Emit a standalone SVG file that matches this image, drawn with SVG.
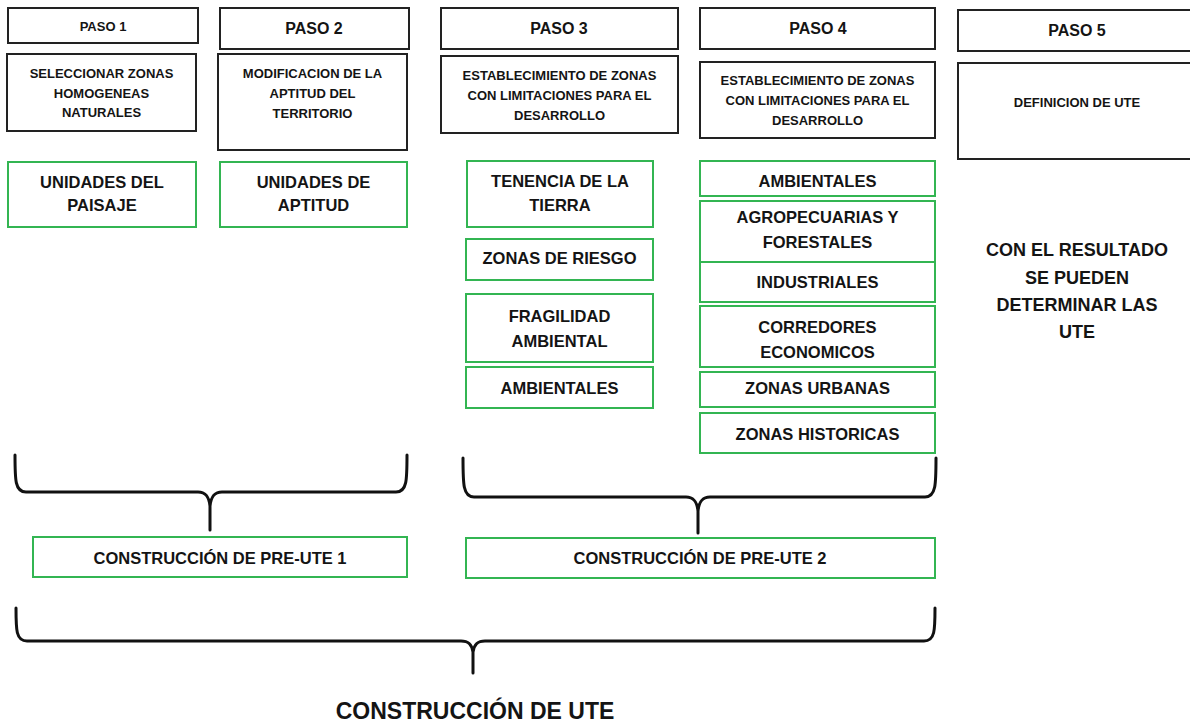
<svg xmlns="http://www.w3.org/2000/svg" width="1190" height="723" viewBox="0 0 1190 723">
<style>
.bk{fill:#fff;stroke:#222;stroke-width:2}
.gr{fill:#fff;stroke:#33b552;stroke-width:2}
text{font-family:"Liberation Sans",Arial,sans-serif;font-weight:bold;fill:#141414;text-anchor:middle}
.s13{font-size:13px}
.s16{font-size:16px}
.g{font-size:16.5px}
.big{font-size:18px}
.brace{fill:none;stroke:#111;stroke-width:3;stroke-linecap:round;stroke-linejoin:round}
</style>
<rect width="1190" height="723" fill="#fff"/>

<g id="paso1">
<rect class="bk" x="8" y="8" width="190" height="35"/>
<text class="s13" x="103" y="31">PASO 1</text>
</g>
<g id="paso2">
<rect class="bk" x="220" y="8" width="189" height="41"/>
<text class="s16" x="314" y="34">PASO 2</text>
</g>
<g id="paso3">
<rect class="bk" x="441" y="8" width="237" height="41"/>
<text class="s16" x="559" y="34">PASO 3</text>
</g>
<g id="paso4">
<rect class="bk" x="700" y="8" width="235" height="41"/>
<text class="s16" x="818" y="34">PASO 4</text>
</g>
<g id="paso5">
<rect class="bk" x="958" y="10" width="240" height="41"/>
<text class="s16" x="1077" y="36">PASO 5</text>
</g>

<g id="desc1">
<rect class="bk" x="7" y="54" width="189" height="77"/>
<text class="s13" x="101.5" y="78">SELECCIONAR ZONAS</text>
<text class="s13" x="101.5" y="97.5">HOMOGENEAS</text>
<text class="s13" x="101.5" y="117">NATURALES</text>
</g>
<g id="desc2">
<rect class="bk" x="218" y="54" width="189" height="96"/>
<text class="s13" x="312.5" y="77.5">MODIFICACION DE LA</text>
<text class="s13" x="312.5" y="97.5">APTITUD DEL</text>
<text class="s13" x="312.5" y="117.5">TERRITORIO</text>
</g>
<g id="desc3">
<rect class="bk" x="441" y="56" width="237" height="77"/>
<text class="s13" x="559.5" y="79.5">ESTABLECIMIENTO DE ZONAS</text>
<text class="s13" x="559.5" y="99.5">CON LIMITACIONES PARA EL</text>
<text class="s13" x="559.5" y="119.5">DESARROLLO</text>
</g>
<g id="desc4">
<rect class="bk" x="700" y="62" width="235" height="76"/>
<text class="s13" x="817.5" y="84.5">ESTABLECIMIENTO DE ZONAS</text>
<text class="s13" x="817.5" y="104.5">CON LIMITACIONES PARA EL</text>
<text class="s13" x="817.5" y="124.5">DESARROLLO</text>
</g>
<g id="desc5">
<rect class="bk" x="958" y="63" width="240" height="96"/>
<text class="s13" x="1077" y="106.5">DEFINICION DE UTE</text>
</g>

<g id="unidades-paisaje">
<rect class="gr" x="8" y="162" width="188" height="65"/>
<text class="g" x="102" y="188">UNIDADES DEL</text>
<text class="g" x="102" y="211">PAISAJE</text>
</g>
<g id="unidades-aptitud">
<rect class="gr" x="220" y="162" width="187" height="65"/>
<text class="g" x="313.5" y="188">UNIDADES DE</text>
<text class="g" x="313.5" y="211">APTITUD</text>
</g>

<g id="tenencia">
<rect class="gr" x="467" y="161" width="186" height="66"/>
<text class="g" x="560" y="187">TENENCIA DE LA</text>
<text class="g" x="560" y="211">TIERRA</text>
</g>
<g id="riesgo">
<rect class="gr" x="466" y="239" width="187" height="41"/>
<text class="g" x="559.5" y="264">ZONAS DE RIESGO</text>
</g>
<g id="fragilidad">
<rect class="gr" x="466" y="294" width="187" height="68"/>
<text class="g" x="559.5" y="322">FRAGILIDAD</text>
<text class="g" x="559.5" y="347">AMBIENTAL</text>
</g>
<g id="ambientales3">
<rect class="gr" x="466" y="367" width="187" height="41"/>
<text class="g" x="559.5" y="394">AMBIENTALES</text>
</g>

<g id="ambientales4">
<rect class="gr" x="700" y="161" width="235" height="35"/>
<text class="g" x="817.5" y="187">AMBIENTALES</text>
</g>
<g id="agro">
<rect class="gr" x="700" y="201" width="235" height="61"/>
<text class="g" x="817.5" y="223">AGROPECUARIAS Y</text>
<text class="g" x="817.5" y="248">FORESTALES</text>
</g>
<g id="industriales">
<rect class="gr" x="700" y="262" width="235" height="40"/>
<text class="g" x="817.5" y="288">INDUSTRIALES</text>
</g>
<g id="corredores">
<rect class="gr" x="700" y="306" width="235" height="61"/>
<text class="g" x="817.5" y="333">CORREDORES</text>
<text class="g" x="817.5" y="358">ECONOMICOS</text>
</g>
<g id="urbanas">
<rect class="gr" x="700" y="372" width="235" height="35"/>
<text class="g" x="817.5" y="394">ZONAS URBANAS</text>
</g>
<g id="historicas">
<rect class="gr" x="700" y="413" width="235" height="40"/>
<text class="g" x="817.5" y="440">ZONAS HISTORICAS</text>
</g>

<g id="resultado">
<text class="big" x="1077" y="256">CON EL RESULTADO</text>
<text class="big" x="1077" y="284">SE PUEDEN</text>
<text class="big" x="1077" y="311">DETERMINAR LAS</text>
<text class="big" x="1077" y="338">UTE</text>
</g>

<g id="connectors">
<path class="brace" d="M15,455 C15,480 15,492 26,492 L198,492 C206,492 209,497 210,506 L210,530 M407,455 C407,480 407,492 396,492 L222,492 C214,492 211,497 210,506"/>
<path class="brace" d="M463,458 C463,484 463,497 474,497 L686,497 C694,497 697,502 698,511 L698,533 M936,458 C936,484 936,497 925,497 L710,497 C702,497 699,502 698,511"/>
<path class="brace" d="M16,608 C16,630 16,641 27,641 L461,641 C469,641 472,645 473,652 L473,673 M935,608 C935,630 935,641 924,641 L485,641 C477,641 474,645 473,652"/>
</g>

<g id="pre-ute-1">
<rect class="gr" x="33" y="537" width="374" height="40"/>
<text class="g" x="220" y="564">CONSTRUCCIÓN DE PRE-UTE 1</text>
</g>
<g id="pre-ute-2">
<rect class="gr" x="466" y="538" width="469" height="40"/>
<text class="g" x="700" y="564">CONSTRUCCIÓN DE PRE-UTE 2</text>
</g>
<g id="ute">
<text x="475" y="719" style="font-size:23px">CONSTRUCCIÓN DE UTE</text>
</g>
</svg>
